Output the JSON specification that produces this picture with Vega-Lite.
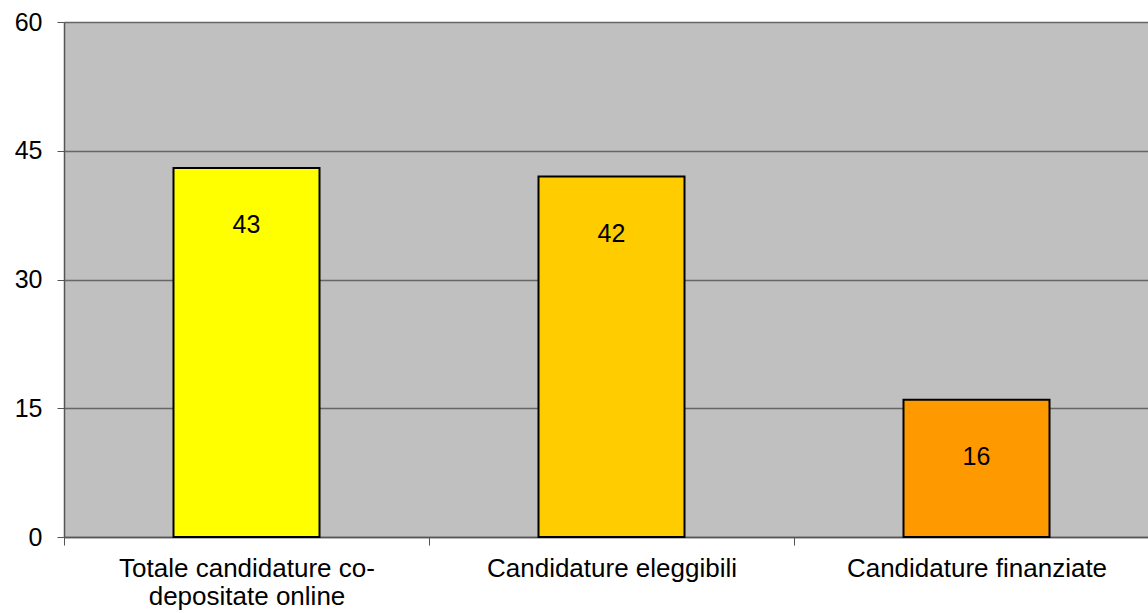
{
  "$schema": "https://vega.github.io/schema/vega-lite/v6.json",
  "width": 1084,
  "height": 515,
  "autosize": {"type": "none"},
  "padding": {"left": 64, "top": 22, "right": 0, "bottom": 76},
  "background": "white",
  "config": {
    "view": {"fill": "#C0C0C0", "stroke": null},
    "font": "Liberation Sans"
  },
  "data": {
    "values": [
      {"categoria": "Totale candidature co-depositate online", "valore": 43},
      {"categoria": "Candidature eleggibili", "valore": 42},
      {"categoria": "Candidature finanziate", "valore": 16}
    ]
  },
  "encoding": {
    "x": {
      "field": "categoria",
      "type": "nominal",
      "sort": null,
      "scale": {"range": [0, 1095], "paddingInner": 0, "paddingOuter": 0},
      "axis": {
        "title": null,
        "labelAngle": 0,
        "labelFont": "Liberation Sans",
        "labelFontSize": 26,
        "labelColor": "#000000",
        "labelPadding": 10,
        "labelLimit": 0,
        "labelOverlap": false,
        "labelBound": false,
        "labelLineHeight": 28,
        "labelExpr": "datum.value == 'Totale candidature co-depositate online' ? ['Totale candidature co-', 'depositate online'] : datum.label",
        "tickBand": "extent",
        "tickSize": 8,
        "tickColor": "#555555",
        "domainColor": "#555555",
        "domainWidth": 1.5,
        "grid": false
      }
    },
    "y": {
      "field": "valore",
      "type": "quantitative",
      "scale": {"domain": [0, 60], "nice": false},
      "axis": {
        "title": null,
        "values": [0, 15, 30, 45, 60],
        "labelFont": "Liberation Sans",
        "labelFontSize": 25,
        "labelColor": "#000000",
        "labelPadding": 15,
        "tickSize": 7,
        "tickColor": "#555555",
        "domainColor": "#555555",
        "domainWidth": 1.5,
        "grid": true,
        "gridColor": "#666666",
        "gridWidth": 1.5
      }
    }
  },
  "layer": [
    {
      "mark": {"type": "bar", "stroke": "#000000", "strokeWidth": 2, "width": {"band": 0.4}},
      "encoding": {
        "color": {
          "field": "categoria",
          "type": "nominal",
          "scale": {
            "domain": ["Totale candidature co-depositate online", "Candidature eleggibili", "Candidature finanziate"],
            "range": ["#FFFF00", "#FFCC00", "#FF9900"]
          },
          "legend": null
        }
      }
    },
    {
      "mark": {"type": "text", "baseline": "middle", "align": "center", "dy": 57, "fontSize": 25, "font": "Liberation Sans", "color": "#000000"},
      "encoding": {
        "text": {"field": "valore", "type": "quantitative"}
      }
    }
  ]
}
